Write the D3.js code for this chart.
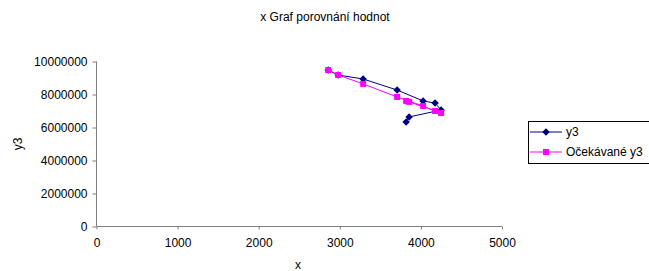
<!DOCTYPE html>
<html>
<head>
<meta charset="utf-8">
<script src="https://cdn.jsdelivr.net/npm/d3@7"></script>
<style>
  body { margin: 0; background: #fff; }
  svg { display: block; font-family: "Liberation Sans", Arial, sans-serif; }
</style>
</head>
<body>
<div id="chart"></div>
<script>
var width = 649,
    height = 271;

var titleText = "x Graf porovnání hodnot";
var seriesNames = ["y3", "Očekávané y3"];
var xValues = [2857, 2980, 3288, 3707, 4027, 4175, 4249, 3855, 3818];
var y3Values = [9480000, 9180000, 8940000, 8270000, 7610000, 7480000, 7060000, 6640000, 6330000];
var expectedValues = [9480000, 9180000, 8640000, 7850000, 7300000, 7000000, 6880000, 7550000, 7610000];
var xTicks = [0, 1000, 2000, 3000, 4000, 5000];
var yTicks = [0, 2000000, 4000000, 6000000, 8000000, 10000000];

var svg = d3.select("#chart")
    .append("svg")
    .attr("width", width)
    .attr("height", height);

var x = d3.scaleLinear().domain([0, 5000]).range([96.5, 502]);
var y = d3.scaleLinear().domain([0, 10000000]).range([226.5, 61.5]);

// titulek
svg.append("text")
    .attr("x", 325)
    .attr("y", 21)
    .attr("text-anchor", "middle")
    .style("font-size", "12px")
    .text(titleText);

// osy
var xAxis = svg.append("g")
    .attr("transform", "translate(0," + y(0) + ")")
    .call(d3.axisBottom(x).tickValues(xTicks).tickSize(3).tickPadding(9).tickFormat(d3.format("d")));

var yAxis = svg.append("g")
    .attr("transform", "translate(" + x(0) + ",0)")
    .call(d3.axisLeft(y).tickValues(yTicks).tickSize(4).tickPadding(5).tickFormat(d3.format("d")));

svg.selectAll(".domain").attr("stroke", "#808080");
svg.selectAll(".tick line").attr("stroke", "#808080");
svg.selectAll(".tick text")
    .attr("fill", "#000")
    .style("font-size", "12px")
    .style("font-family", "'Liberation Sans', Arial, sans-serif");
xAxis.selectAll(".domain").attr("d", "M" + x(0) + ",0H" + x(5000));
yAxis.selectAll(".domain").attr("d", "M0," + y(0) + "V" + y(10000000));

svg.append("text")
    .attr("x", 298)
    .attr("y", 269)
    .attr("text-anchor", "middle")
    .style("font-size", "12px")
    .text("x");

svg.append("text")
    .attr("transform", "translate(22,144) rotate(-90)")
    .attr("text-anchor", "middle")
    .style("font-size", "12px")
    .text("y3");

// data
var blueData = xValues.map(function(d, i) { return [d, y3Values[i]]; });
var pinkData = xValues.map(function(d, i) { return [d, expectedValues[i]]; });

var line = d3.line()
    .x(function(d) { return x(d[0]); })
    .y(function(d) { return y(d[1]); });

var diamond = d3.symbol().type(d3.symbolDiamond2).size(36);
var square = d3.symbol().type(d3.symbolSquare).size(36);

svg.append("path")
    .datum(blueData)
    .attr("d", line)
    .attr("fill", "none")
    .attr("stroke", "#000080")
    .attr("stroke-width", 1);

svg.selectAll(".blue-pt")
    .data(blueData)
    .enter().append("path")
    .attr("class", "blue-pt")
    .attr("transform", function(d) { return "translate(" + x(d[0]) + "," + y(d[1]) + ")"; })
    .attr("d", diamond)
    .attr("fill", "#000080");

svg.append("path")
    .datum(pinkData)
    .attr("d", line)
    .attr("fill", "none")
    .attr("stroke", "#ff00ff")
    .attr("stroke-width", 1);

svg.selectAll(".pink-pt")
    .data(pinkData)
    .enter().append("path")
    .attr("class", "pink-pt")
    .attr("transform", function(d) { return "translate(" + x(d[0]) + "," + y(d[1]) + ")"; })
    .attr("d", square)
    .attr("fill", "#ff00ff");

// legenda
svg.append("rect")
    .attr("x", 528.5)
    .attr("y", 121.5)
    .attr("width", 140)
    .attr("height", 42)
    .attr("fill", "#fff")
    .attr("stroke", "#000");

var legendColors = ["#000080", "#ff00ff"];
var legendSymbols = [diamond, square];

var legend = svg.selectAll(".legend")
    .data(seriesNames)
    .enter().append("g")
    .attr("class", "legend")
    .attr("transform", function(d, i) { return "translate(0," + (132 + i * 20) + ")"; });

legend.append("line")
    .attr("x1", 530)
    .attr("x2", 562)
    .attr("stroke", function(d, i) { return legendColors[i]; });

legend.append("path")
    .attr("transform", "translate(546,0)")
    .attr("d", function(d, i) { return legendSymbols[i](); })
    .attr("fill", function(d, i) { return legendColors[i]; });

legend.append("text")
    .attr("x", 566)
    .attr("dy", ".35em")
    .style("font-size", "12px")
    .text(function(d) { return d; });
</script>
</body>
</html>
